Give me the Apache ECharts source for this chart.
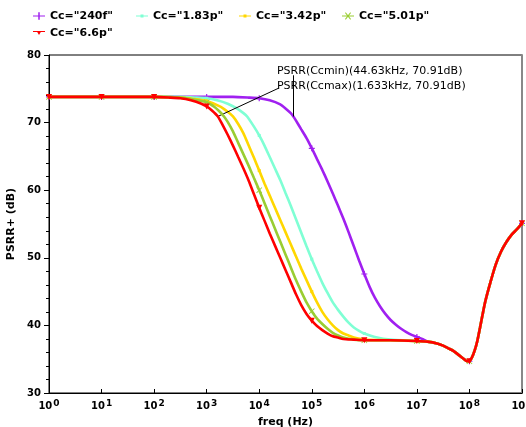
<!DOCTYPE html>
<html>
<head>
<meta charset="utf-8">
<script src="https://cdn.jsdelivr.net/npm/echarts@6/dist/echarts.min.js"></script>
<style>html,body{margin:0;padding:0;background:#fff;}#c{width:526px;height:427px;}</style>
</head>
<body>
<div id="c"></div>
<script>
// ---- data (log10 of frequency in Hz, PSRR+ in dB) ----
const names = ['Cc="240f"', 'Cc="1.83p"', 'Cc="3.42p"', 'Cc="5.01p"', 'Cc="6.6p"'];
const colors = ['#a020f0', '#7fffd4', '#ffd700', '#9acd32', '#ff0000'];

const logF_240f = [0,1,2,3,3.5,3.8,4,4.2,4.4,4.5,4.6,4.65,4.7,4.8,4.9,5,5.1,5.2,5.3,5.4,5.5,5.6,5.7,5.8,5.9,6,6.1,6.2,6.3,6.4,6.5,6.6,6.7,6.8,6.9,7,7.1];
const db_240f   = [73.8,73.8,73.8,73.8,73.8,73.7,73.6,73.3,72.7,72.1,71.4,70.91,70.3,69.0,67.7,66.2,64.6,63.0,61.3,59.5,57.7,55.8,53.8,51.7,49.6,47.6,45.7,44.1,42.8,41.7,40.8,40.1,39.5,39.0,38.6,38.3,38.0];

const logF_183p = [0,1,2,2.5,2.8,3,3.2,3.4,3.55,3.7,3.77,3.9,4,4.1,4.2,4.3,4.4,4.5,4.6,4.7,4.8,4.9,5,5.1,5.2,5.3,5.4,5.5,5.6,5.7,5.8,5.9,6,6.2,6.5,7];
const db_183p   = [73.8,73.8,73.8,73.8,73.7,73.6,73.3,72.8,72.2,71.4,70.91,69.4,68.1,66.6,64.9,63.2,61.5,59.6,57.7,55.7,53.7,51.7,49.8,48.0,46.3,44.8,43.4,42.3,41.3,40.4,39.7,39.2,38.8,38.3,37.9,37.7];

const logF_342p = [0,1,2,2.5,2.75,3,3.25,3.4,3.5,3.6,3.7,3.8,3.9,4,4.1,4.2,4.3,4.4,4.5,4.6,4.7,4.8,4.9,5,5.1,5.2,5.3,5.4,5.5,5.6,5.7,5.8,6,6.5,7];
const db_342p   = [73.8,73.8,73.8,73.7,73.5,73.2,72.4,71.6,70.91,69.8,68.4,66.6,64.8,62.9,61.0,59.2,57.4,55.6,53.8,52.0,50.2,48.4,46.7,45.0,43.4,42.0,40.9,40.0,39.3,38.8,38.5,38.2,37.9,37.8,37.7];

const logF_501p = [0,1,2,2.5,2.75,3,3.15,3.25,3.33,3.4,3.5,3.6,3.7,3.8,3.9,4,4.1,4.2,4.3,4.4,4.5,4.6,4.7,4.8,4.9,5,5.1,5.2,5.3,5.4,5.5,5.6,5.8,6,6.5,7];
const db_501p   = [73.8,73.8,73.8,73.7,73.4,73.0,72.3,71.6,70.91,70.1,68.7,67.0,65.3,63.6,61.8,60.0,58.1,56.2,54.3,52.4,50.5,48.6,46.7,45.0,43.4,42.1,41.0,40.2,39.5,38.9,38.5,38.2,37.9,37.8,37.8,37.7];

const logF_66p = [0,1,2,2.3,2.5,2.7,2.9,3,3.1,3.213,3.3,3.4,3.5,3.6,3.7,3.8,3.9,4,4.1,4.2,4.3,4.4,4.5,4.6,4.7,4.8,4.9,5,5.1,5.2,5.3,5.4,5.5,5.6,5.8,6,6.5,7];
const db_66p   = [73.8,73.8,73.8,73.7,73.6,73.3,72.8,72.4,71.8,70.91,69.7,68.2,66.6,64.9,63.2,61.4,59.4,57.4,55.5,53.6,51.8,50.0,48.2,46.4,44.6,43.0,41.7,40.7,39.9,39.3,38.8,38.4,38.2,38.0,37.9,37.8,37.8,37.7];

// shared high-frequency tail (all curves coincide)
const tailLogF = [7.2,7.4,7.5,7.6,7.7,7.8,7.9,7.95,8,8.05,8.1,8.15,8.2,8.25,8.3,8.4,8.5,8.6,8.7,8.8,8.9,9];
const tailDb   = [37.6,37.3,37.0,36.6,36.2,35.6,35.0,34.7,34.7,35.3,36.3,37.7,39.6,41.6,43.5,46.4,49.0,50.9,52.3,53.4,54.2,55.1];

const xTickExps = [0,1,2,3,4,5,6,7,8,9];
const yTicks = [30,40,50,60,70,80];

// annotation points
const annCcmin = {f: 44630, db: 70.91, text: 'PSRR(Ccmin)(44.63kHz, 70.91dB)'};
const annCcmax = {f: 1633, db: 70.91, text: 'PSRR(Ccmax)(1.633kHz, 70.91dB)'};

// ---- build ----
function mk(lf, db) {
  const a = lf.map((l, i) => [Math.pow(10, l), db[i]]);
  tailLogF.forEach((l, i) => a.push([Math.pow(10, l), tailDb[i]]));
  return a;
}
const allData = [mk(logF_240f, db_240f), mk(logF_183p, db_183p), mk(logF_342p, db_342p), mk(logF_501p, db_501p), mk(logF_66p, db_66p)];

const symbols = [
  'path://M4,0h2v10h-2zM0,4h10v2h-10z',
  'rect',
  'rect',
  'path://M0,1l1,-1l9,9l-1,1zM9,0l1,1l-9,9l-1,-1z',
  'triangle'
];
const legendIcons = [
  'path://M0,4.2h16v1.6h-16zM7,0h2v10h-2z',
  'path://M0,4.2h16v1.6h-16zM6,3h4v4h-4z',
  'path://M0,4.2h16v1.6h-16zM6,3h4v4h-4z',
  'path://M0,4.2h16v1.6h-16zM4,1l1,-1l7,9l-1,1zM11,0l1,1l-7,9l-1,-1z',
  'path://M0,3.4h16v1.6h-16zM5,4h6l-3,5z'
];
const FF = 'DejaVu Sans';

function isDecade(x) {
  const l = Math.log10(x);
  return Math.abs(l - Math.round(l)) < 1e-6;
}

const series = names.map((n, k) => {
  const s = {
    name: n,
    type: 'line',
    data: allData[k],
    smooth: 0.2,
    showSymbol: true,
    symbol: symbols[k],
    symbolRotate: k === 4 ? 180 : 0,
    symbolSize: (v) => isDecade(v[0]) ? (k === 1 || k === 2 ? 3 : 6) : 0,
    itemStyle: {color: colors[k]},
    lineStyle: {color: colors[k], width: 2.6},
    emphasis: {disabled: true},
    animation: false,
    z: 2 + k
  };
  if (k === 4) {
    s.markLine = {
      silent: true, symbol: 'none', animation: false,
      lineStyle: {color: '#000', width: 1, type: 'solid'},
      label: {show: false},
      data: [
        [{coord: [annCcmax.f, annCcmax.db]}, {coord: [Math.pow(10, 4.363), 75.07]}],
        [{coord: [annCcmin.f, annCcmin.db]}, {coord: [annCcmin.f, 77.0]}]
      ]
    };
    s.markPoint = {
      silent: true, animation: false, symbolSize: 0,
      label: {show: true, position: 'right', distance: 0, color: '#000', fontFamily: FF, fontSize: 11},
      data: [
        {coord: [Math.pow(10, 4.338), 77.63], value: annCcmin.text, label: {formatter: annCcmin.text}},
        {coord: [Math.pow(10, 4.338), 75.41], value: annCcmax.text, label: {formatter: annCcmax.text}}
      ]
    };
  }
  return s;
});

const chart = echarts.init(document.getElementById('c'), null, {renderer: 'canvas'});
chart.setOption({
  backgroundColor: '#fff',
  animation: false,
  grid: {left: 49, right: 4, top: 55, bottom: 34, show: true, borderColor: '#000', borderWidth: 1,
         containLabel: false, outerBoundsMode: 'none'},
  legend: {
    left: 28, top: 4, width: 420,
    itemWidth: 12, itemHeight: 8, itemGap: 3,
    textStyle: {fontFamily: FF, fontWeight: 'bold', fontSize: 11, color: '#000', width: 83, lineHeight: 14},
    data: names.map((n, k) => ({name: n, icon: legendIcons[k], itemStyle: {color: colors[k]}}))
  },
  xAxis: {
    type: 'log', logBase: 10, min: 1, max: 1e9,
    name: 'freq (Hz)', nameLocation: 'middle', nameGap: 24,
    nameTextStyle: {fontFamily: FF, fontWeight: 'bold', fontSize: 11, color: '#000'},
    axisLine: {lineStyle: {color: '#000', width: 1}},
    axisTick: {inside: true, length: 4, lineStyle: {color: '#000'}},
    minorTick: {show: false},
    splitLine: {show: false},
    axisLabel: {
      margin: 6,
      formatter: (v) => {
        const e = Math.round(Math.log10(v));
        return xTickExps.indexOf(e) >= 0 ? '{b|10}{s|' + e + '}' : '';
      },
      rich: {
        b: {fontFamily: FF, fontWeight: 'bold', fontSize: 10, color: '#000'},
        s: {fontFamily: FF, fontWeight: 'bold', fontSize: 9, color: '#000', padding: [0, 0, 6, 1]}
      }
    }
  },
  yAxis: [{
    type: 'value', min: yTicks[0], max: yTicks[yTicks.length - 1], interval: 10,
    name: 'PSRR+ (dB)', nameLocation: 'middle', nameGap: 22, nameRotate: 90,
    nameTextStyle: {fontFamily: FF, fontWeight: 'bold', fontSize: 11, color: '#000'},
    axisLine: {show: true, lineStyle: {color: '#000', width: 1}},
    axisTick: {show: true, inside: false, length: 5, lineStyle: {color: '#000'}},
    minorTick: {show: true, splitNumber: 5, length: 3, lineStyle: {color: '#000'}},
    splitLine: {show: false},
    axisLabel: {margin: 8, fontFamily: FF, fontWeight: 'bold', fontSize: 10, color: '#000'}
  }, {
    type: 'value', min: 30, max: 80, position: 'right',
    axisLine: {show: true, lineStyle: {color: '#888', width: 2}},
    axisTick: {show: false}, axisLabel: {show: false}, splitLine: {show: false}
  }],
  series: series
});
</script>
</body>
</html>
